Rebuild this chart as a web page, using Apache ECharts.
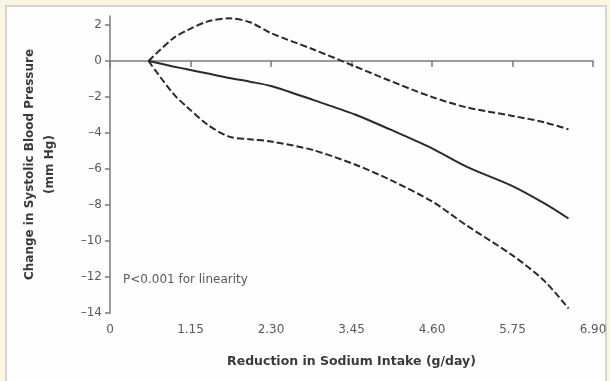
<!DOCTYPE html>
<html>
<head>
<meta charset="utf-8">
<script src="https://cdn.jsdelivr.net/npm/echarts@6/dist/echarts.min.js"></script>
<style>
  html, body { margin: 0; padding: 0; background: #fcf6df; }
  #frame { position: absolute; left: 5px; top: 5px; width: 602px; height: 380px;
           background: #fefefe; border: 2px solid #d4d4d4; border-bottom: none; box-sizing: border-box; }
  #main { position: absolute; left: 0; top: 0; width: 610px; height: 381px; }
</style>
</head>
<body>
<div id="frame"></div>
<div id="main"></div>
<script>
// reduction in sodium intake (g/day)
var xValues = [0.55, 0.9, 1.1, 1.4, 1.7, 2.0, 2.3, 2.9, 3.5, 4.0, 4.6, 5.1, 5.75, 6.2, 6.55];
// change in systolic BP (mm Hg)
var estimate = [0, -0.3, -0.46, -0.7, -0.94, -1.15, -1.39, -2.16, -2.97, -3.8, -4.85, -5.88, -6.95, -7.9, -8.75];
var upperCI  = [0, 1.25, 1.7, 2.2, 2.37, 2.15, 1.55, 0.65, -0.3, -1.1, -2.0, -2.58, -3.05, -3.4, -3.8];
var lowerCI  = [0, -1.8, -2.55, -3.55, -4.2, -4.35, -4.47, -4.95, -5.75, -6.6, -7.8, -9.15, -10.8, -12.2, -13.75];

var xTicks = [0, 1.15, 2.30, 3.45, 4.60, 5.75, 6.90];
var yTicks = [-14, -12, -10, -8, -6, -4, -2, 0, 2];

function pairs(ys) {
    var out = [];
    for (var i = 0; i < xValues.length; i++) {
        out.push([xValues[i], ys[i]]);
    }
    return out;
}

var chartDom = document.getElementById('main');
var myChart = echarts.init(chartDom);
var option;

var axisColor = '#7a7a7a';
var labelColor = '#5a5a5a';
var fontFam = 'DejaVu Sans, sans-serif';

option = {
    animation: false,
    backgroundColor: 'transparent',
    grid: { left: 110, right: 17, top: 16, bottom: 68 },
    xAxis: {
        type: 'value',
        min: 0,
        max: 6.9,
        interval: 1.15,
        name: 'Reduction in Sodium Intake (g/day)',
        nameLocation: 'middle',
        nameGap: 42,
        nameTextStyle: { color: '#3a3a3a', fontWeight: 'bold', fontSize: 12.5, fontFamily: fontFam },
        splitLine: { show: false },
        axisLine: { lineStyle: { color: axisColor, width: 1.5 } },
        axisTick: { show: true, length: 6, lineStyle: { color: axisColor, width: 1.5 }, customValues: xTicks },
        axisLabel: {
            color: labelColor, fontSize: 12, fontFamily: fontFam, margin: 11,
            customValues: xTicks,
            formatter: function (v) { return v === 0 ? '0' : v.toFixed(2); }
        }
    },
    yAxis: {
        type: 'value',
        min: -14,
        max: 2.5,
        interval: 2,
        name: 'Change in Systolic Blood Pressure\n(mm Hg)',
        nameLocation: 'middle',
        nameRotate: 90,
        nameGap: 50,
        nameTextStyle: { color: '#3a3a3a', fontWeight: 'bold', fontSize: 12, fontFamily: fontFam, lineHeight: 20 },
        splitLine: { show: false },
        axisLine: { show: true, lineStyle: { color: axisColor, width: 1.5 } },
        axisTick: { show: true, length: 5, lineStyle: { color: axisColor, width: 1.5 }, customValues: yTicks },
        axisLabel: {
            color: labelColor, fontSize: 12, fontFamily: fontFam, margin: 8,
            customValues: yTicks,
            formatter: function (v) { return String(v).replace('-', '\u2013'); }
        }
    },
    graphic: [{
        type: 'text',
        left: 123,
        top: 274,
        style: { text: 'P<0.001 for linearity', fill: labelColor, font: '12px ' + fontFam }
    }],
    series: [
        {
            name: 'Upper',
            type: 'line',
            data: pairs(upperCI),
            smooth: 0.3,
            showSymbol: false,
            lineStyle: { color: '#2a2a2a', width: 2, type: [7, 3] }
        },
        {
            name: 'Estimate',
            type: 'line',
            data: pairs(estimate),
            smooth: 0.3,
            showSymbol: false,
            lineStyle: { color: '#2a2a2a', width: 2 }
        },
        {
            name: 'Lower',
            type: 'line',
            data: pairs(lowerCI),
            smooth: 0.3,
            showSymbol: false,
            lineStyle: { color: '#2a2a2a', width: 2, type: [7, 3] }
        }
    ]
};

option && myChart.setOption(option);
</script>
</body>
</html>
